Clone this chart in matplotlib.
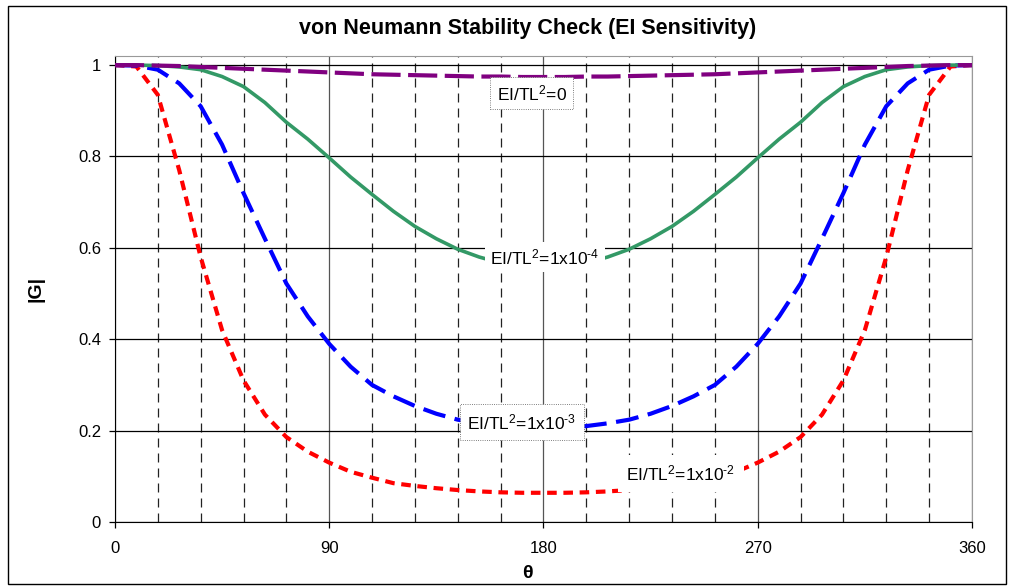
"""
von Neumann stability check: |G| vs theta for several EI/TL^2 values.
"""
import matplotlib
matplotlib.use("Agg")
import matplotlib.pyplot as plt
from matplotlib.patches import Rectangle
from matplotlib.ticker import MultipleLocator, FixedLocator

plt.rcParams["font.family"] = ["Liberation Sans", "DejaVu Sans"]
plt.rcParams["mathtext.fontset"] = "custom"
plt.rcParams["mathtext.rm"] = "Liberation Sans"
plt.rcParams["mathtext.it"] = "Liberation Sans"

# theta in degrees, 9 degree steps
theta = [0, 9, 18, 27, 36, 45, 54, 63, 72, 81, 90, 99, 108, 117, 126, 135, 144, 153, 162, 171,
         180, 189, 198, 207, 216, 225, 234, 243, 252, 261, 270, 279, 288, 297, 306, 315, 324,
         333, 342, 351, 360]

g_ei0 = [1.0, 1.0, 0.999, 0.998, 0.996, 0.994, 0.992, 0.99, 0.988, 0.986, 0.984, 0.982, 0.98,
         0.979, 0.978, 0.977, 0.976, 0.975, 0.975, 0.974, 0.974, 0.974, 0.975, 0.975, 0.976,
         0.977, 0.978, 0.979, 0.98, 0.982, 0.984, 0.986, 0.988, 0.99, 0.992, 0.994, 0.996,
         0.998, 0.999, 1.0, 1.0]

g_ei1e4 = [1.0, 1.0, 0.999, 0.996, 0.99, 0.975, 0.953, 0.918, 0.875, 0.838, 0.797, 0.755, 0.717,
           0.68, 0.647, 0.62, 0.597, 0.58, 0.567, 0.56, 0.557, 0.56, 0.567, 0.58, 0.597, 0.62,
           0.647, 0.68, 0.717, 0.755, 0.797, 0.838, 0.875, 0.918, 0.953, 0.975, 0.99, 0.996,
           0.999, 1.0, 1.0]

g_ei1e3 = [1.0, 0.999, 0.99, 0.96, 0.91, 0.826, 0.72, 0.62, 0.522, 0.45, 0.39, 0.34, 0.3, 0.275,
           0.254, 0.237, 0.224, 0.216, 0.21, 0.207, 0.206, 0.207, 0.21, 0.216, 0.224, 0.237,
           0.254, 0.275, 0.3, 0.34, 0.39, 0.45, 0.522, 0.62, 0.72, 0.826, 0.91, 0.96, 0.99,
           0.999, 1.0]

g_ei1e2 = [1.0, 0.997, 0.935, 0.77, 0.58, 0.42, 0.31, 0.235, 0.186, 0.154, 0.13, 0.11, 0.097,
           0.085, 0.079, 0.074, 0.07, 0.067, 0.065, 0.064, 0.064, 0.064, 0.065, 0.067, 0.07,
           0.074, 0.079, 0.085, 0.097, 0.11, 0.13, 0.154, 0.186, 0.235, 0.31, 0.42, 0.58, 0.77,
           0.935, 0.997, 1.0]

labels = [r"EI/TL$^2$=0", r"EI/TL$^2$=1x10$^{\text{-}4}$", r"EI/TL$^2$=1x10$^{\text{-}3}$",
          r"EI/TL$^2$=1x10$^{\text{-}2}$"]

fig = plt.figure(figsize=(10.11, 5.88), dpi=100)
ax = fig.add_axes([0.1137, 0.1122, 0.8477, 0.7926])

ax.plot(theta, g_ei1e2, color="#ff0000", linewidth=3, linestyle=(0, (2.3, 1.6)), zorder=3)
ax.plot(theta, g_ei1e3, color="#0000ff", linewidth=3, linestyle=(0, (5.5, 2.3)), zorder=3)
ax.plot(theta, g_ei1e4, color="#339966", linewidth=2.6, zorder=3)
ax.plot(theta, g_ei0, color="#800080", linewidth=3, linestyle=(0, (7, 1.8)), zorder=3)

# curve labels, boxed like the original
txt_kw = dict(fontsize=12.5, ha="center", va="center", zorder=5)
ax.text(175, 0.939, labels[0], bbox=dict(boxstyle="square,pad=0.35", fc="white",
        ec="#555555", lw=0.6, ls=":"), **txt_kw)
ax.text(180.6, 0.58, labels[1], bbox=dict(boxstyle="square,pad=0.3", fc="white",
        ec="none"), **txt_kw)
ax.text(171, 0.219, labels[2], bbox=dict(boxstyle="square,pad=0.45", fc="white",
        ec="#555555", lw=0.6, ls=":"), **txt_kw)
ax.text(237.7, 0.107, labels[3], bbox=dict(boxstyle="square,pad=0.5", fc="white",
        ec="none"), **txt_kw)

ax.set_xlim(0, 360)
ax.set_ylim(0, 1.02)
ax.xaxis.set_major_locator(FixedLocator([0, 90, 180, 270, 360]))
ax.xaxis.set_minor_locator(MultipleLocator(18))
ax.yaxis.set_major_locator(FixedLocator([0, 0.2, 0.4, 0.6, 0.8, 1.0]))
ax.set_yticklabels(["0", "0.2", "0.4", "0.6", "0.8", "1"])

ax.grid(axis="y", which="major", color="black", linewidth=0.9, zorder=1)
ax.grid(axis="x", which="major", color="#555555", linewidth=0.9, zorder=1)
ax.grid(axis="x", which="minor", color="#222222", linewidth=0.9,
        linestyle=(0, (7.2, 4.8)), zorder=1)
ax.set_axisbelow(True)

ax.tick_params(axis="both", which="major", direction="out", length=4, width=0.9,
               labelsize=12)
ax.tick_params(axis="y", which="major", pad=6)
ax.tick_params(axis="x", which="major", pad=10)
ax.tick_params(axis="x", which="minor", length=0)

for side in ("top", "right"):
    ax.spines[side].set_color("#999999")
for side in ("left", "bottom"):
    ax.spines[side].set_color("black")

ax.set_xlabel("θ", fontsize=14, fontweight="bold")
ax.xaxis.set_label_coords(0.481, -0.093)
ax.set_ylabel("|G|", fontsize=14, fontweight="bold", labelpad=24)
fig.text(0.522, 0.952, "von Neumann Stability Check (EI Sensitivity)", fontsize=15.5,
         fontweight="bold", ha="center", va="center")

fig.patches.append(Rectangle((0.008, 0.007), 0.987, 0.983, transform=fig.transFigure,
                             fill=False, edgecolor="black", linewidth=1))

fig.savefig("out.png", dpi=100)
